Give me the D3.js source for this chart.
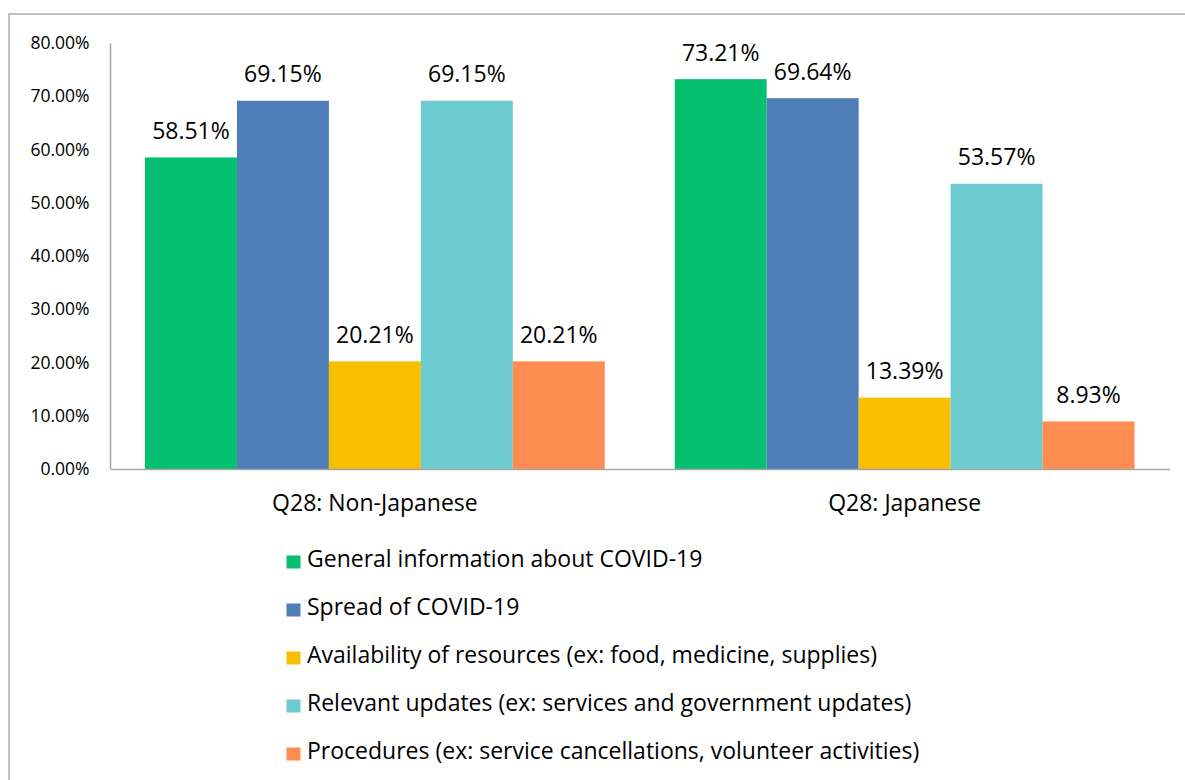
<!DOCTYPE html>
<html><head><meta charset="utf-8">
<script src="https://cdn.jsdelivr.net/npm/d3@7"></script>
<style>body{margin:0;background:#fff}svg{display:block}text{font-family:"Open Sans",sans-serif;fill:#000}</style>
</head><body><svg id="c" width="1185" height="780"></svg>
<script>
const categories = ["Q28: Non-Japanese", "Q28: Japanese"];
const seriesNames = [
  "General information about COVID-19",
  "Spread of COVID-19",
  "Availability of resources (ex: food, medicine, supplies)",
  "Relevant updates (ex: services and government updates)",
  "Procedures (ex: service cancellations, volunteer activities)"
];
const generalInfo = [58.51, 73.21];
const spread = [69.15, 69.64];
const availability = [20.21, 13.39];
const relevantUpdates = [69.15, 53.57];
const procedures = [20.21, 8.93];
const yTicks = [0, 10, 20, 30, 40, 50, 60, 70, 80];
const colors = ["#05C070", "#4F7DB8", "#F8BE00", "#6CCBCE", "#FF8C50"];

const series = [generalInfo, spread, availability, relevantUpdates, procedures];
const svg = d3.select("#c");

svg.append("rect").attr("x", 9).attr("y", 14).attr("width", 1200).attr("height", 800)
  .attr("fill", "none").attr("stroke", "#ADADAD").attr("stroke-width", 1.5);

const x0 = d3.scaleBand().domain(categories).range([110, 1169.5]).paddingInner(0).paddingOuter(0);
const x1 = d3.scaleBand().domain(d3.range(series.length)).range([35, x0.bandwidth() - 35]);
const y = d3.scaleLinear().domain([0, 80]).range([469, 43]);

const g = svg.append("g");
categories.forEach((c, ci) => {
  series.forEach((s, si) => {
    g.append("rect")
      .attr("x", x0(c) + x1(si))
      .attr("y", y(s[ci]))
      .attr("width", x1.bandwidth())
      .attr("height", y(0) - y(s[ci]))
      .attr("fill", colors[si]);
    g.append("text")
      .attr("x", x0(c) + x1(si) + x1.bandwidth() / 2)
      .attr("y", y(s[ci]) - 18.5)
      .attr("text-anchor", "middle")
      .attr("font-size", 23)
      .text(s[ci].toFixed(2) + "%");
  });
});

const yAxis = d3.axisLeft(y).tickValues(yTicks).tickSize(0).tickPadding(20.5)
  .tickFormat(d => d.toFixed(2) + "%");
const ya = svg.append("g").attr("transform", "translate(110,0)").call(yAxis);
ya.select(".domain").attr("stroke", "#A6A6A6").attr("stroke-width", 1.5);
ya.selectAll("text").attr("font-size", 17.5).attr("font-family", "Open Sans, sans-serif");

const xAxis = d3.axisBottom(x0).tickSize(0).tickPadding(25.5);
const xa = svg.append("g").attr("transform", "translate(0,469)").call(xAxis);
xa.select(".domain").attr("stroke", "#A6A6A6").attr("stroke-width", 1.5);
xa.selectAll("text").attr("font-size", 23).attr("font-family", "Open Sans, sans-serif");

const lg = svg.append("g");
seriesNames.forEach((n, i) => {
  const b = 567 + i * 48;
  lg.append("rect").attr("x", 286.5).attr("y", b - 11.5).attr("width", 14).attr("height", 13).attr("fill", colors[i]);
  lg.append("text").attr("x", 307).attr("y", b).attr("font-size", 23).text(n);
});
</script></body></html>
